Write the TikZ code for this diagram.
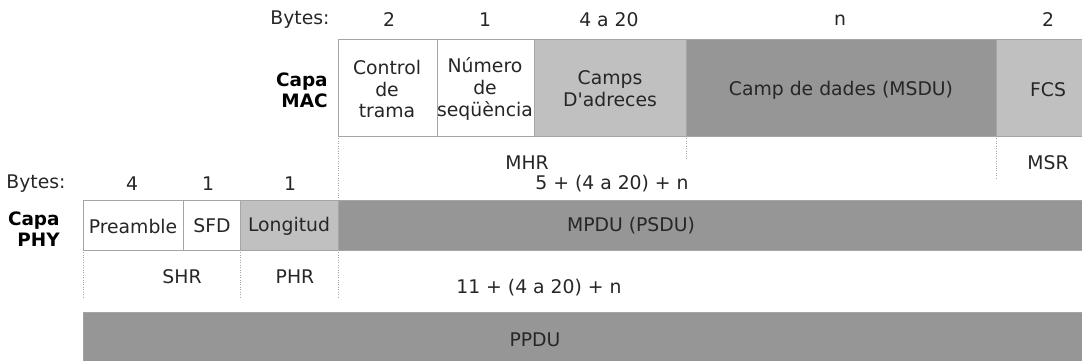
\documentclass[tikz,border=0pt]{standalone}
\usepackage{fontspec}
\setmainfont{DejaVu Sans}

\begin{document}
\begin{tikzpicture}[x=0.02cm,y=-0.02cm]

	\definecolor{lightgrey}{RGB}{192,192,192}
	\definecolor{darkgrey}{RGB}{150,150,150}
	\definecolor{edgegrey}{RGB}{165,165,165}

	\tikzstyle{field} = [draw=edgegrey, line width=0.5pt]
	\tikzstyle{sep} = [draw=edgegrey, densely dotted, line width=0.4pt]
	\tikzset{txt/.style = {font=\fontsize{10.7}{12.5}\selectfont, text=black!85, align=center, inner sep=0pt}}
	\tikzset{capa/.style = {font=\fontsize{10.5}{12}\selectfont\bfseries, align=right, anchor=east, inner sep=0pt}}

	\useasboundingbox (0,0) rectangle (1082,361);

	% capa MAC
	\filldraw[field, fill=white]      (338,39) rectangle (437,136);
	\filldraw[field, fill=white]      (437,39) rectangle (534,136);
	\filldraw[field, fill=lightgrey]  (534,39) rectangle (686,136);
	\filldraw[field, fill=darkgrey]   (686,39) rectangle (996,136);
	\filldraw[field, fill=lightgrey]  (996,39) rectangle (1082,136);

	\draw[sep] (338,136) -- (338,200);
	\draw[sep] (686,136) -- (686,160);
	\draw[sep] (996,136) -- (996,180);

	\node[txt] (bmac) at (300,20) {Bytes:};
	\node[txt] (b1) at (389,20) {2};
	\node[txt] (b2) at (485,20) {1};
	\node[txt] (b3) at (609,20) {4 a 20};
	\node[txt] (b4) at (840,20) {n};
	\node[txt] (b5) at (1048,20) {2};

	\node[capa] (mac) at (328,90) {Capa\\MAC};
	\node[txt] (ctrl) at (387,89) {Control\\de\\trama};
	\node[txt] (seq) at (485,89) {Número\\de\\seqüència};
	\node[txt] (addr) at (610,89) {Camps\\D\textquotesingle adreces};
	\node[txt] (data) at (841,90) {Camp de dades (MSDU)};
	\node[txt] (fcs) at (1048,90) {FCS};

	\node[txt] (mhr) at (527,163) {MHR};
	\node[txt] (msr) at (1048,163) {MSR};
	\node[txt] (mlen) at (612,184) {5 + (4 a 20) + n};

	% capa PHY
	\filldraw[field, fill=white]      (83,200) rectangle (183,250);
	\filldraw[field, fill=white]      (183,200) rectangle (240,250);
	\filldraw[field, fill=lightgrey]  (240,200) rectangle (338,250);
	\filldraw[field, fill=darkgrey]   (338,200) rectangle (1082,250);
	\filldraw[field, fill=darkgrey]   (83,312) rectangle (1082,361);

	\draw[sep] (83,250) -- (83,298);
	\draw[sep] (240,250) -- (240,298);
	\draw[sep] (338,250) -- (338,298);

	\node[txt] (bphy) at (36,184) {Bytes:};
	\node[txt] (p1) at (132,184) {4};
	\node[txt] (p2) at (208,184) {1};
	\node[txt] (p3) at (290,184) {1};

	\node[capa] (phy) at (60,229) {Capa\\PHY};
	\node[txt] (pre) at (133,226) {Preamble};
	\node[txt] (sfd) at (212,226) {SFD};
	\node[txt] (len) at (289,226) {Longitud};
	\node[txt] (mpdu) at (631,226) {MPDU (PSDU)};

	\node[txt] (shr) at (182,277) {SHR};
	\node[txt] (phr) at (295,277) {PHR};
	\node[txt] (plen) at (539,288) {11 + (4 a 20) + n};
	\node[txt] (ppdu) at (535,340) {PPDU};

\end{tikzpicture}
\end{document}
